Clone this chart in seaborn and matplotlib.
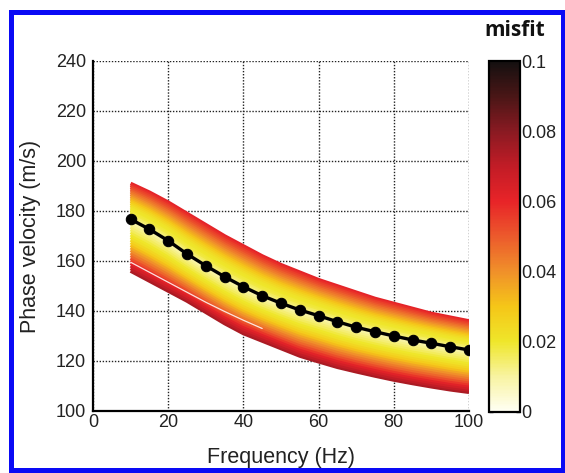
import numpy as np
import pandas as pd
import matplotlib
matplotlib.use("Agg")
import matplotlib.pyplot as plt
import seaborn as sns
from matplotlib.colors import LinearSegmentedColormap, Normalize
from matplotlib.cm import ScalarMappable
from matplotlib.patches import Rectangle

# ---------------- data ----------------
freq = [10, 15, 20, 25, 30, 35, 40, 45, 50, 55, 60, 65, 70, 75, 80, 85, 90, 95, 100]
observed = [176.7, 172.7, 168.1, 162.8, 158.1, 153.7, 149.7, 146.1, 143.1, 140.4,
            138.1, 135.7, 133.5, 131.7, 130.0, 128.4, 127.1, 125.7, 124.4]
band_upper = [191.0, 187.5, 183.5, 179.0, 174.5, 170.0, 166.0, 162.0, 158.5, 155.5,
              152.5, 150.0, 147.5, 145.0, 143.0, 141.0, 139.0, 137.5, 136.0]
band_lower = [156.0, 152.0, 148.0, 144.0, 139.5, 135.0, 131.0, 128.0, 125.0, 122.0,
              119.7, 117.5, 115.7, 114.0, 112.4, 111.0, 109.7, 108.5, 107.5]
# relative position of each model curve inside the band (0 = observed, 1 = edge)
upper_pos = [0.05, 0.10, 0.15, 0.20, 0.25, 0.30, 0.35, 0.40, 0.45, 0.50,
             0.55, 0.60, 0.65, 0.70, 0.75, 0.80, 0.85, 0.90, 0.95, 1.00]
upper_misfit = [0.014, 0.016, 0.018, 0.019, 0.020, 0.021, 0.023, 0.025, 0.028, 0.031,
                0.034, 0.037, 0.040, 0.043, 0.046, 0.049, 0.052, 0.055, 0.058, 0.061]
lower_pos = [0.05, 0.10, 0.15, 0.20, 0.25, 0.30, 0.35, 0.40, 0.45, 0.50,
             0.55, 0.60, 0.65, 0.70, 0.75, 0.80, 0.85, 0.90, 0.95, 1.00]
lower_misfit = [0.010, 0.012, 0.014, 0.016, 0.018, 0.020, 0.022, 0.025, 0.028, 0.032,
                0.036, 0.040, 0.044, 0.048, 0.052, 0.057, 0.062, 0.066, 0.070, 0.074]
center_misfit = 0.015
gap_freq = [10, 15, 20, 25, 30, 35, 40, 45]
gap_vel = [159.5, 155.5, 151.5, 147.5, 143.5, 139.8, 136.3, 133.0]

x_ticks = [0, 20, 40, 60, 80, 100]
y_ticks = [100, 120, 140, 160, 180, 200, 220, 240]
cbar_ticks = [0, 0.02, 0.04, 0.06, 0.08, 0.1]
cbar_labels = ["0", "0.02", "0.04", "0.06", "0.08", "0.1"]

# ---------------- style ----------------
sns.set_style("white")
plt.rcParams["font.family"] = ["Liberation Sans", "DejaVu Sans"]

cmap = LinearSegmentedColormap.from_list("misfit", [
    (0.00, "#fffff4"), (0.10, "#f8f3a0"), (0.20, "#efe62a"), (0.30, "#f5c618"),
    (0.40, "#f0902a"), (0.50, "#ec5a2c"), (0.60, "#e82428"), (0.70, "#c21c26"),
    (0.80, "#8a1a22"), (0.90, "#4a1616"), (1.00, "#141010")])
norm = Normalize(0, 0.1)

fig = plt.figure(figsize=(5.65, 4.73), dpi=100)
ax = fig.add_axes([0.1646, 0.1311, 0.6655, 0.740])
cax = fig.add_axes([0.8655, 0.129, 0.0549, 0.742])

# ---------------- band of model curves ----------------
c = np.array(observed)
up = np.array(band_upper)
lo = np.array(band_lower)
curves = [(center_misfit, c)]
for p, m in zip(upper_pos, upper_misfit):
    curves.append((m, c + p * (up - c)))
for p, m in zip(lower_pos, lower_misfit):
    curves.append((m, c + p * (lo - c)))
curves.sort(key=lambda t: -t[0])
for m, v in curves:
    df = pd.DataFrame({"freq": freq, "vel": v})
    sns.lineplot(data=df, x="freq", y="vel", color=cmap(norm(m)), lw=2.6,
                 ax=ax, legend=False, sort=False, solid_capstyle="butt")
sns.lineplot(x=gap_freq, y=gap_vel, color="white", lw=0.9, alpha=0.85, ax=ax, legend=False)

# observed curve
sns.lineplot(x=freq, y=observed, color="black", lw=2.4, marker="o", markersize=7.5,
             markeredgecolor="black", ax=ax, legend=False)

# ---------------- axes ----------------
ax.set_xlim(0, 100)
ax.set_ylim(100, 240)
ax.set_xticks(x_ticks)
ax.set_yticks(y_ticks)
ax.set_axisbelow(True)
ax.grid(True, color="#222222", linestyle=(0, (1, 1.2)), lw=1.0)
for s in ["top", "right"]:
    ax.spines[s].set_visible(False)
for s in ["left", "bottom"]:
    ax.spines[s].set_color("black")
    ax.spines[s].set_linewidth(1.6)
ax.tick_params(axis="both", direction="in", length=4, width=1.2, colors="black",
               labelcolor="#222222", labelsize=13)
ax.tick_params(axis="x", pad=2)
ax.tick_params(axis="y", pad=5)
ax.set_xlabel("Frequency (Hz)", fontsize=15.5, color="#222222", labelpad=12)
ax.set_ylabel("Phase velocity (m/s)", fontsize=15.5, color="#222222", labelpad=11)

# ---------------- colorbar ----------------
sm = ScalarMappable(norm=norm, cmap=cmap)
cb = fig.colorbar(sm, cax=cax)
cb.set_ticks(cbar_ticks)
cb.set_ticklabels(cbar_labels)
cb.outline.set_linewidth(1.6)
cb.outline.set_edgecolor("black")
cax.tick_params(direction="in", length=3, width=1, left=True, right=True,
                labelsize=13, labelcolor="#222222", pad=1)
fig.text(0.911, 0.935, "misfit", ha="center", va="center", fontsize=15,
         fontweight="bold", family=["Open Sans", "DejaVu Sans"], color="#111111")

# ---------------- blue frame ----------------
fig.patches.append(Rectangle((0.0186, 0.0053), 0.977, 0.9693, transform=fig.transFigure,
                             fill=False, edgecolor="#0a0af5", lw=3.6, zorder=10))

fig.savefig("out.png", dpi=100)
